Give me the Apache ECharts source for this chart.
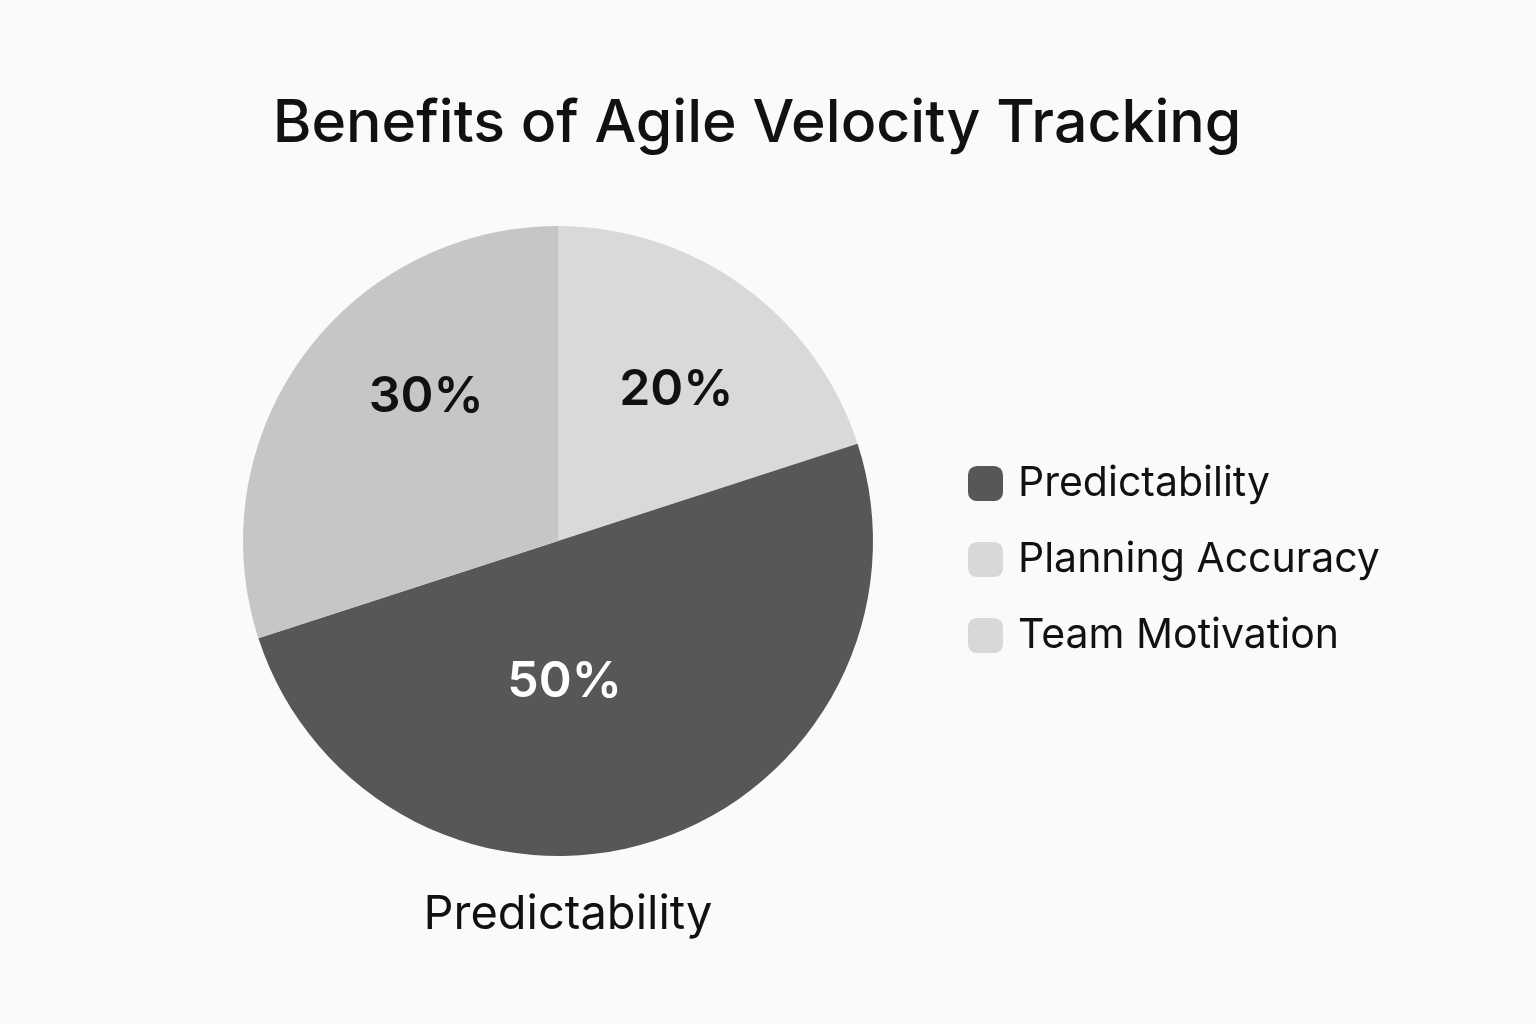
<!DOCTYPE html>
<html>
<head>
<meta charset="utf-8">
<script src="https://cdn.jsdelivr.net/npm/echarts@6/dist/echarts.min.js"></script>
<style>
  html, body { margin: 0; padding: 0; background: #fbfaf8; }
  #main { width: 1536px; height: 1024px; }
</style>
</head>
<body>
<div id="main"></div>
<script>
// slices clockwise from 12 o'clock
var names = ['Planning Accuracy', 'Predictability', 'Team Motivation'];
var values = [20, 50, 30];
var colors = ['#d9d9d9', '#565858', '#c6c6c6'];
var legendOrder = ['Predictability', 'Planning Accuracy', 'Team Motivation'];
var legendColors = ['#565858', '#d8d8d8', '#d8d8d8'];

var font = '"Inter", "Noto Sans", sans-serif';

// nudges for the percent labels so they sit where the reference has them
var labelNudge = [[24, -21], [-43, -12], [-2, -50]];

var pieData = [];
for (var i = 0; i < names.length; i++) {
    pieData.push({
        name: names[i],
        value: values[i],
        itemStyle: { color: colors[i] },
        label: { color: names[i] == 'Predictability' ? '#ffffff' : '#111111' }
    });
}
var legendData = [];
for (var j = 0; j < legendOrder.length; j++) {
    legendData.push({ name: legendOrder[j], itemStyle: { color: legendColors[j] } });
}

var myChart = echarts.init(document.getElementById('main'));
var option = {
    backgroundColor: '#fbfaf8',
    title: [{
        text: 'Benefits of Agile Velocity Tracking',
        left: 752,
        top: 90,
        textAlign: 'center',
        textStyle: { fontFamily: font, fontSize: 59, fontWeight: 500, color: '#111111' }
    }, {
        text: 'Predictability',
        left: 563,
        top: 886,
        textAlign: 'center',
        textStyle: { fontFamily: font, fontSize: 47, fontWeight: 400, color: '#111111' }
    }],
    legend: {
        orient: 'vertical',
        left: 963,
        top: 458,
        itemWidth: 35,
        itemHeight: 35,
        itemGap: 35,
        icon: 'roundRect',
        textStyle: { fontFamily: font, fontSize: 41, color: '#111111', padding: [0, 0, 0, 10] },
        data: legendData
    },
    series: [{
        type: 'pie',
        center: [558, 541],
        radius: 315,
        startAngle: 90,
        clockwise: true,
        silent: true,
        label: {
            position: 'inside',
            formatter: '{c}%',
            fontFamily: font,
            fontSize: 50,
            fontWeight: 600
        },
        labelLayout: function (p) {
            return { dx: labelNudge[p.dataIndex][0], dy: labelNudge[p.dataIndex][1] };
        },
        labelLine: { show: false },
        itemStyle: { borderWidth: 0 },
        data: pieData
    }]
};
myChart.setOption(option);
</script>
</body>
</html>
